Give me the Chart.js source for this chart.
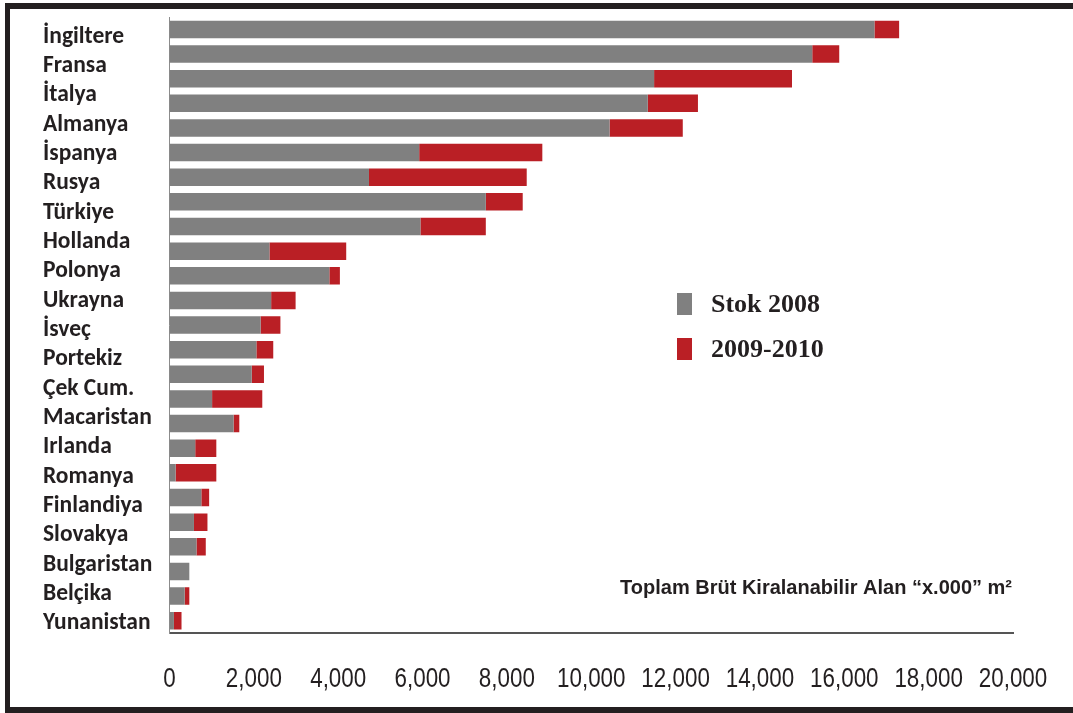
<!DOCTYPE html>
<html>
<head>
<meta charset="utf-8">
<script src="https://cdn.jsdelivr.net/npm/chart.js@4/dist/chart.umd.min.js"></script>
<style>
  html, body { margin: 0; padding: 0; background: #fff; }
  #wrap { position: relative; width: 1073px; height: 713px; }
  #frame {
    position: absolute; left: 5px; top: 3px; width: 1068px; height: 710px;
    box-sizing: border-box; pointer-events: none;
    border-top: 6px solid #231f20; border-left: 5px solid #231f20; border-bottom: 6px solid #231f20;
  }
</style>
</head>
<body>
<div id="wrap">
  <canvas id="chart"></canvas>
  <div id="frame"></div>
</div>
<script>
const countries = [
  "İngiltere", "Fransa", "İtalya", "Almanya", "İspanya", "Rusya", "Türkiye",
  "Hollanda", "Polonya", "Ukrayna", "İsveç", "Portekiz", "Çek Cum.", "Macaristan",
  "Irlanda", "Romanya", "Finlandiya", "Slovakya", "Bulgaristan", "Belçika", "Yunanistan"
];

// the picture has 25 bars but only 21 names beside them
const barRows = ["1", "2", "3", "4", "5", "6", "7", "8", "9", "10", "11", "12", "13",
  "14", "15", "16", "17", "18", "19", "20", "21", "22", "23", "24", "25"];

const stock2008 = [16715, 15240, 11490, 11340, 10435, 5920, 4730, 7500, 5950, 2370,
  3790, 2410, 2160, 2060, 1950, 1010, 1520, 610, 145, 755, 580, 640, 470, 360, 105];
const added0910 = [585, 640, 3270, 1190, 1735, 2920, 3740, 875, 1550, 1820,
  250, 580, 470, 400, 290, 1190, 135, 500, 965, 185, 320, 220, 0, 110, 180];

const xTickValues = [0, 2000, 4000, 6000, 8000, 10000, 12000, 14000, 16000, 18000, 20000];

const seriesNames = ["Stok 2008", "2009-2010"];
const axisCaption = "Toplam Brüt Kiralanabilir Alan “x.000” m²";

const textColor = "#231f20";

// legend, caption and condensed x tick labels (no narrow font installed)
const overlayText = {
  id: "overlayText",
  afterDraw(chart) {
    const ctx = chart.ctx;
    ctx.save();
    chart.data.datasets.forEach((ds, i) => {
      const y = 293 + i * 45;
      ctx.fillStyle = ds.backgroundColor;
      ctx.fillRect(677, y, 15, 22);
      ctx.fillStyle = textColor;
      ctx.font = "bold 26px 'Liberation Serif', 'Times New Roman', serif";
      ctx.textAlign = "left";
      ctx.textBaseline = "middle";
      ctx.fillText(ds.label, 711, y + 12);
    });
    ctx.font = "bold 20px 'Liberation Sans', Arial, sans-serif";
    ctx.textAlign = "right";
    ctx.fillText(axisCaption, 1012, 588);

    const xs = chart.scales.x;
    ctx.font = "28px 'Liberation Sans', Arial, sans-serif";
    ctx.textAlign = "center";
    xs.ticks.forEach((t) => {
      const px = xs.getPixelForValue(t.value);
      ctx.save();
      ctx.translate(px, xs.top + 46);
      ctx.scale(0.8, 1);
      ctx.fillText(t.value.toLocaleString("en-US"), 0, 0);
      ctx.restore();
    });
    ctx.restore();
  },
};

const config = {
  type: "bar",
  data: {
    labels: barRows,
    datasets: [
      {
        label: seriesNames[0],
        data: stock2008,
        backgroundColor: "#808080",
        borderWidth: 0,
        barPercentage: 0.71,
        categoryPercentage: 1,
      },
      {
        label: seriesNames[1],
        data: added0910,
        backgroundColor: "#ba1f25",
        borderWidth: 0,
        barPercentage: 0.71,
        categoryPercentage: 1,
      },
    ],
  },
  options: {
    indexAxis: "y",
    responsive: true,
    maintainAspectRatio: false,
    animation: false,
    layout: {
      padding: { left: 43, top: 16, right: 60, bottom: 20 },
    },
    scales: {
      x: {
        stacked: true,
        min: 0,
        max: 20000,
        grid: { display: false, drawTicks: false },
        border: { display: true, color: "#555", width: 2 },
        afterBuildTicks(scale) {
          scale.ticks = xTickValues.map((v) => ({ value: v }));
        },
        afterFit(scale) {
          scale.height = 60;
        },
        ticks: { display: false },
      },
      y: {
        stacked: true,
        display: false,
      },
      names: {
        type: "category",
        position: "left",
        labels: countries,
        offset: true,
        grid: { display: false, drawTicks: false },
        border: { display: true, color: "#8c8c8c", width: 1 },
        afterFit(scale) {
          scale.width = 126.5;
        },
        ticks: {
          crossAlign: "far",
          autoSkip: false,
          labelOffset: 5,
          color: textColor,
          font: { family: "Carlito, Lato, sans-serif", size: 23.5, weight: "bold" },
        },
      },
    },
    plugins: {
      legend: { display: false },
      tooltip: { enabled: false },
    },
  },
  plugins: [overlayText],
};

new Chart(document.getElementById("chart"), config);
</script>
</body>
</html>
